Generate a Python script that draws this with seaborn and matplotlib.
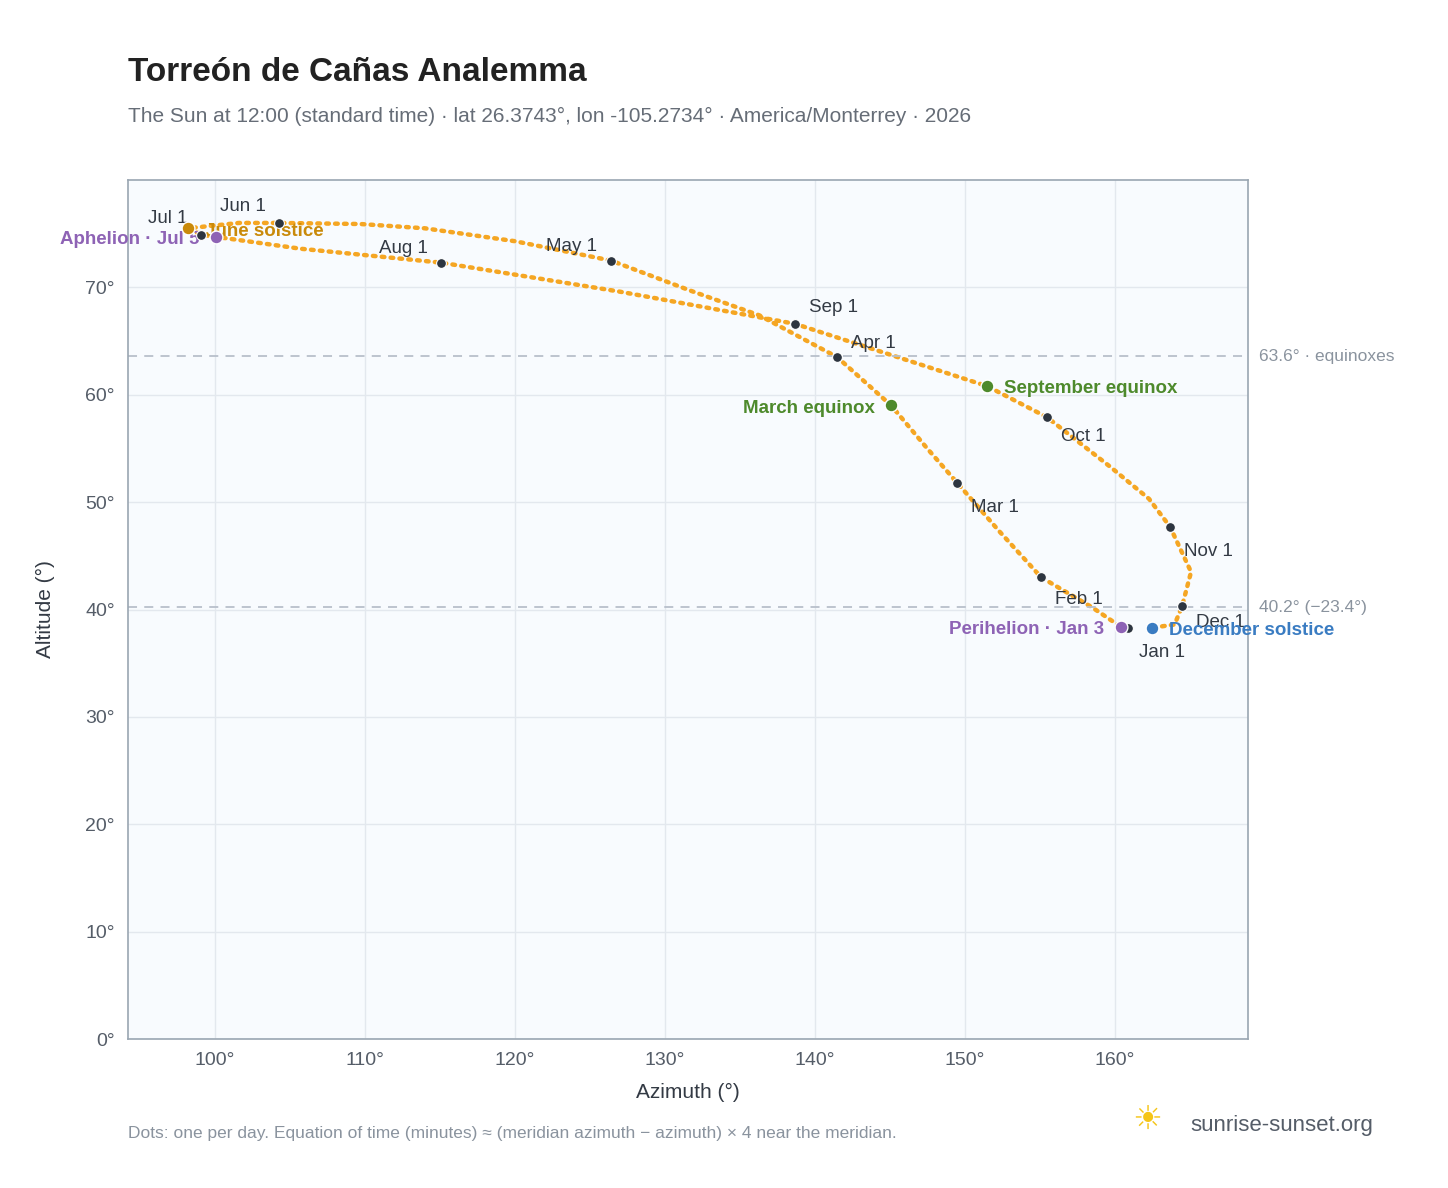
import matplotlib
matplotlib.use("Agg")
import matplotlib.pyplot as plt
import seaborn as sns
import pandas as pd

sns.set_theme(style="whitegrid")
plt.rcParams['font.family'] = ['Liberation Sans', 'DejaVu Sans']

# path samples, in date order Jan 1 -> Dec 31
path_az = [160.9, 160.4, 158.5, 155.1, 152.3, 149.5, 147.5, 145.1, 141.5, 136.3, 131.7, 126.4,
           120.0, 114.0, 109.7, 104.3, 101.6, 98.2, 99.1, 100.1, 105.7, 115.1, 127.0, 138.7, 151.5,
           155.5, 159.7, 162.3, 163.7, 165.1, 164.5, 164.0, 162.5, 160.9]
path_alt = [38.3, 38.4, 40.2, 43.0, 47.3, 51.8, 55.0, 59.0, 63.5, 67.4, 69.7, 72.5,
            74.3, 75.5, 75.9, 76.0, 76.0, 75.5, 74.9, 74.7, 73.6, 72.3, 69.6, 66.6, 60.8,
            57.9, 53.3, 50.3, 47.7, 43.5, 40.3, 38.6, 38.3, 38.3]

months = ["Jan 1", "Feb 1", "Mar 1", "Apr 1", "May 1", "Jun 1", "Jul 1", "Aug 1", "Sep 1", "Oct 1", "Nov 1", "Dec 1"]
month_az = [160.9, 155.1, 149.5, 141.5, 126.4, 104.3, 99.1, 115.1, 138.7, 155.5, 163.7, 164.5]
month_alt = [38.3, 43.0, 51.8, 63.5, 72.5, 76.0, 74.9, 72.3, 66.6, 57.9, 47.7, 40.3]
month_off = [(8, -18), (10, -16), (10, -18), (10, 10), (-10, 10), (-10, 12), (-10, 12), (-10, 10),
             (10, 12), (10, -14), (10, -18), (10, -12)]

events = ["June solstice", "Aphelion · Jul 5", "March equinox", "September equinox",
          "Perihelion · Jan 3", "December solstice"]
event_az = [98.2, 100.1, 145.1, 151.5, 160.4, 162.5]
event_alt = [75.5, 74.7, 59.0, 60.8, 38.4, 38.3]
event_col = ["#c98a0a", "#8e63b5", "#4e8a2c", "#4e8a2c", "#8e63b5", "#3a7cc2"]
event_ha = ["left", "right", "right", "left", "right", "left"]

fig = plt.figure(figsize=(14.48, 11.88), dpi=100)
ax = fig.add_axes([0.0884, 0.1254, 0.7735, 0.7231])
ax.set_facecolor("#f8fbfe")
for s in ax.spines.values():
    s.set_color("#9aa6b2")
    s.set_linewidth(1.2)
ax.grid(color="#e3e8ee", linewidth=1)

df = pd.DataFrame({"az": path_az, "alt": path_alt})
sns.lineplot(data=df, x="az", y="alt", sort=False, ax=ax, color="#f5a623",
             linewidth=3.2, linestyle=(0, (0.6, 1.4)), dash_capstyle="round")

mdf = pd.DataFrame({"az": month_az, "alt": month_alt})
sns.scatterplot(data=mdf, x="az", y="alt", ax=ax, color="#2d3540", s=50, zorder=5, edgecolor="white", linewidth=0.8)
for m, x, y, o in zip(months, month_az, month_alt, month_off):
    ax.annotate(m, (x, y), xytext=o, textcoords="offset points", fontsize=13.5, color="#333a44",
                ha="left" if o[0] > 0 else "right", va="center")

for e, x, y, c, ha in zip(events, event_az, event_alt, event_col, event_ha):
    ax.scatter([x], [y], color=c, s=85, zorder=6, edgecolor="white", linewidth=1)
    ax.annotate(e, (x, y), xytext=(12 if ha == "left" else -12, -2), textcoords="offset points",
                fontsize=13.5, color=c, fontweight="bold", ha=ha, va="center")

for yv, lab in [(63.6, "63.6° · equinoxes"), (40.2, "40.2° (−23.4°)")]:
    ax.axhline(yv, color="#b8c0cb", linestyle=(0, (5, 4)), linewidth=1.3)
    ax.text(1.01, yv, lab, transform=ax.get_yaxis_transform(), fontsize=12.5, color="#8a939e", va="center")

ax.set_xlim(94.2, 168.9)
ax.set_ylim(0, 80)
ax.set_xticks(range(100, 161, 10))
ax.set_xticklabels([f"{v}°" for v in range(100, 161, 10)])
ax.set_yticks(range(0, 71, 10))
ax.set_yticklabels([f"{v}°" for v in range(0, 71, 10)])
ax.tick_params(labelsize=14, colors="#555d68")
ax.set_xlabel("Azimuth (°)", fontsize=15, color="#333a44", labelpad=10)
ax.set_ylabel("Altitude (°)", fontsize=15, color="#333a44", labelpad=22)

fig.text(0.0884, 0.939, "Torreón de Cañas Analemma", fontsize=24, fontweight="bold", color="#222", va="center")
fig.text(0.0884, 0.902, "The Sun at 12:00 (standard time) · lat 26.3743°, lon -105.2734° · America/Monterrey · 2026",
         fontsize=15, color="#666d77", va="center")
fig.text(0.0884, 0.046, "Dots: one per day. Equation of time (minutes) ≈ (meridian azimuth − azimuth) × 4 near the meridian.",
         fontsize=12.5, color="#8a939e", va="center")
fig.text(0.822, 0.053, "sunrise-sunset.org", fontsize=16, color="#555d68", va="center")
fig.text(0.792, 0.056, "☀", fontsize=24, color="#f5c518", ha="center", va="center")

fig.savefig("out.png", dpi=100)
